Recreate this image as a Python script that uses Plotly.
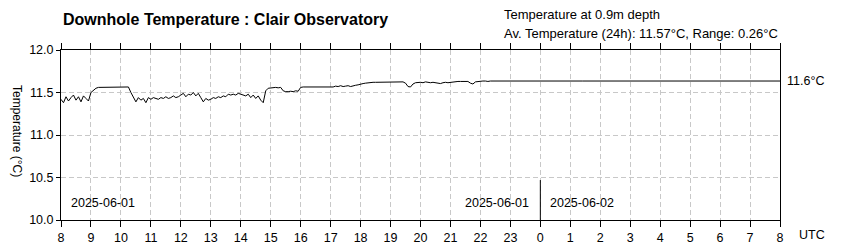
import plotly.graph_objects as go
import pandas as pd

# ---- data (5-minute samples) ----
start_time = "2025-06-01 08:00"
axis_start = "2025-06-01 08:00"
axis_end = "2025-06-02 08:00"
day_boundaries = ["2025-06-02 00:00"]

h08 = [11.42, 11.38, 11.45, 11.40, 11.44, 11.47, 11.41, 11.45, 11.39, 11.46, 11.43, 11.40]
h09 = [11.50, 11.53, 11.55, 11.56, 11.56, 11.56, 11.56, 11.56, 11.565, 11.565, 11.565, 11.565]
h10 = [11.565, 11.565, 11.565, 11.565, 11.50, 11.45, 11.39, 11.44, 11.41, 11.43, 11.38, 11.44]
h11 = [11.42, 11.44, 11.43, 11.42, 11.44, 11.43, 11.45, 11.43, 11.44, 11.46, 11.44, 11.45]
h12 = [11.47, 11.49, 11.45, 11.48, 11.47, 11.50, 11.46, 11.49, 11.44, 11.39, 11.43, 11.41]
h13 = [11.42, 11.44, 11.43, 11.45, 11.44, 11.46, 11.45, 11.48, 11.47, 11.48, 11.47, 11.49]
h14 = [11.48, 11.47, 11.46, 11.48, 11.44, 11.47, 11.43, 11.46, 11.41, 11.38, 11.52, 11.55]
h15 = [11.555, 11.56, 11.56, 11.555, 11.56, 11.52, 11.51, 11.51, 11.515, 11.51, 11.52, 11.515]
h16 = [11.56, 11.565, 11.565, 11.565, 11.565, 11.565, 11.565, 11.565, 11.565, 11.565, 11.565, 11.565]
h17 = [11.57, 11.565, 11.575, 11.57, 11.58, 11.57, 11.575, 11.58, 11.57, 11.58, 11.585, 11.59]
h18 = [11.60, 11.605, 11.61, 11.615, 11.615, 11.62, 11.62, 11.62, 11.62, 11.625, 11.625, 11.625]
h19 = [11.625, 11.625, 11.625, 11.625, 11.625, 11.625, 11.61, 11.57, 11.565, 11.60, 11.615, 11.62]
h20 = [11.62, 11.615, 11.625, 11.62, 11.615, 11.62, 11.615, 11.61, 11.605, 11.615, 11.62, 11.615]
h21 = [11.62, 11.625, 11.63, 11.63, 11.63, 11.63, 11.625, 11.63, 11.61, 11.60, 11.625, 11.63]
h22 = [11.635, 11.635, 11.635, 11.63, 11.635, 11.635, 11.635, 11.635, 11.63, 11.635, 11.635, 11.635]
h23 = [11.635, 11.635, 11.635, 11.635, 11.635, 11.635, 11.635, 11.635, 11.635, 11.635, 11.635, 11.635]
h00 = [11.635, 11.635, 11.635, 11.635, 11.635, 11.635, 11.635, 11.635, 11.635, 11.635, 11.635, 11.635]
h01 = [11.635, 11.63, 11.635, 11.635, 11.635, 11.635]

temps = h08 + h09 + h10 + h11 + h12 + h13 + h14 + h15 + h16 + h17 + h18 + h19 + h20 + h21 + h22 + h23 + h00 + h01
times = pd.date_range(start_time, periods=len(temps), freq="5min")

title_text = "Downhole Temperature : Clair Observatory"
sub1 = "Temperature at 0.9m depth"
sub2 = "Av. Temperature (24h): 11.57°C, Range: 0.26°C"
y_title = "Temperature (°C)"
date_labels = ["2025-06-01", "2025-06-01", "2025-06-02"]

FONT = "Liberation Sans, Arial, sans-serif"
GRID = "#c8c8c8"
DASH = "5px,3px"
last_val = temps[-1]

fig = go.Figure()
fig.add_trace(go.Scatter(x=times, y=temps, mode="lines",
                         line=dict(color="black", width=1), hoverinfo="skip"))
# latest value carried to the right edge
fig.add_trace(go.Scatter(x=[times[-1], pd.Timestamp(axis_end)], y=[last_val, last_val],
                         mode="lines", line=dict(color="black", width=1), hoverinfo="skip"))

for d in day_boundaries:
    fig.add_shape(type="line", xref="x", yref="y", x0=d, x1=d, y0=10.0, y1=10.47,
                  line=dict(color="black", width=1))

ann = [
    dict(text="<b>" + title_text + "</b>", xref="paper", yref="paper", x=0, y=1,
         xanchor="left", yanchor="middle", xshift=0, yshift=31, font=dict(size=16)),
    dict(text=sub1, xref="paper", yref="paper", x=0.6134, y=1, xanchor="left",
         yanchor="middle", yshift=36, font=dict(size=13)),
    dict(text=sub2, xref="paper", yref="paper", x=0.6134, y=1, xanchor="left",
         yanchor="middle", yshift=17, font=dict(size=13)),
    dict(text=y_title, xref="paper", yref="paper", x=0, y=0.5, textangle=90,
         xanchor="center", yanchor="middle", xshift=-44, yshift=4, font=dict(size=12)),
    dict(text=f"{last_val:.1f}°C", xref="paper", yref="y", x=1, y=last_val,
         xanchor="left", yanchor="middle", xshift=5, font=dict(size=12.5)),
    dict(text="UTC", xref="paper", yref="paper", x=1, y=0, xanchor="left",
         yanchor="middle", xshift=17, yshift=-15, font=dict(size=12.5)),
    dict(text=date_labels[0], xref="x", yref="y", x=axis_start, y=10.2,
         xanchor="left", yanchor="middle", xshift=8, font=dict(size=12.5)),
    dict(text=date_labels[1], xref="x", yref="y", x=day_boundaries[0], y=10.2,
         xanchor="right", yanchor="middle", xshift=-9, font=dict(size=12.5)),
    dict(text=date_labels[2], xref="x", yref="y", x=day_boundaries[0], y=10.2,
         xanchor="left", yanchor="middle", xshift=8, font=dict(size=12.5)),
]
for a in ann:
    a["showarrow"] = False
    a.setdefault("font", {})
    a["font"]["color"] = "black"
    a["font"]["family"] = FONT

fig.update_layout(
    width=865, height=250,
    margin=dict(l=61, r=85, t=50, b=30, autoexpand=False),
    paper_bgcolor="white", plot_bgcolor="white",
    showlegend=False,
    font=dict(family=FONT, size=12, color="black"),
    annotations=ann,
)
fig.update_xaxes(
    type="date", range=[axis_start, axis_end], tick0=axis_start, dtick=3600000,
    tickformat="%-H", ticks="outside", ticklen=6, tickcolor="black",
    showline=True, linecolor="black", linewidth=1, mirror="ticks",
    showgrid=True, gridcolor=GRID, griddash=DASH, gridwidth=1,
    tickfont=dict(size=12.5, color="black"), zeroline=False, automargin=False,
)
fig.update_yaxes(
    range=[10, 12], dtick=0.5, tickformat=".1f", ticks="outside", ticklen=4,
    tickcolor="black", showline=True, linecolor="black", linewidth=1, mirror=True,
    showgrid=True, gridcolor=GRID, griddash=DASH, gridwidth=1,
    tickfont=dict(size=12.5, color="black"), zeroline=False, automargin=False,
)

fig.write_html("out.html")
